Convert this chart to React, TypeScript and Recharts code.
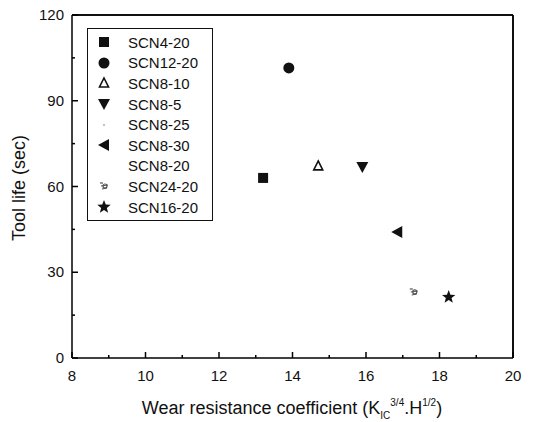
import { ScatterChart, Scatter, XAxis, YAxis, ReferenceLine } from "recharts";

// (x: wear resistance coefficient, y: tool life in sec)
const seriesNames = [
  "SCN4-20",
  "SCN12-20",
  "SCN8-10",
  "SCN8-5",
  "SCN8-25",
  "SCN8-30",
  "SCN8-20",
  "SCN24-20",
  "SCN16-20",
];
const markers = ["square", "circle", "triUpOpen", "triDown", "dot", "triLeft", "none", "scribble", "star"];
const xValues: (number | null)[] = [13.2, 13.9, 14.7, 15.9, null, 16.85, null, 17.3, 18.25];
const yValues: (number | null)[] = [63, 101.5, 67.2, 66.8, null, 44.1, null, 23.1, 21.3];

const xTicks = [8, 9, 10, 11, 12, 13, 14, 15, 16, 17, 18, 19, 20];
const yTicks = [0, 15, 30, 45, 60, 75, 90, 105, 120];

const INK = "#111";
const FONT = "'Liberation Sans', Arial, sans-serif";

function Marker({ kind, cx, cy }: { kind: string; cx: number; cy: number }) {
  switch (kind) {
    case "square":
      return <rect x={cx - 5} y={cy - 5} width={10} height={10} fill={INK} />;
    case "circle":
      return <circle cx={cx} cy={cy} r={5.5} fill={INK} />;
    case "triUpOpen":
      return (
        <path
          d={`M${cx},${cy - 5} L${cx + 4.5},${cy + 4} L${cx - 4.5},${cy + 4} Z`}
          fill="#fff"
          stroke={INK}
          strokeWidth={1.6}
        />
      );
    case "triDown":
      return <path d={`M${cx - 6},${cy - 5} L${cx + 6},${cy - 5} L${cx},${cy + 6} Z`} fill={INK} />;
    case "triLeft":
      return <path d={`M${cx - 6},${cy} L${cx + 5},${cy - 6} L${cx + 5},${cy + 6} Z`} fill={INK} />;
    case "dot":
      return <circle cx={cx} cy={cy} r={0.8} fill="#777" />;
    case "scribble":
      return (
        <g stroke="#555" strokeWidth={1.2} fill="none">
          <path d={`M${cx - 4},${cy - 3} L${cx - 1},${cy - 3}`} />
          <path d={`M${cx - 3},${cy} L${cx + 4},${cy - 1}`} />
          <path d={`M${cx - 2},${cy + 3} L${cx + 3},${cy + 2}`} />
          <circle cx={cx + 1} cy={cy} r={2} />
        </g>
      );
    case "star": {
      const pts: string[] = [];
      for (let i = 0; i < 10; i++) {
        const r = i % 2 === 0 ? 7 : 3;
        const a = -Math.PI / 2 + (i * Math.PI) / 5;
        pts.push(`${cx + r * Math.cos(a)},${cy + r * Math.sin(a)}`);
      }
      return <polygon points={pts.join(" ")} fill={INK} />;
    }
    default:
      return null;
  }
}

// ticks point inward, labels only on major ticks
const XTickBottom = (props: any) => {
  const { x, y, payload } = props;
  const major = payload.value % 2 === 0;
  return (
    <g>
      <line x1={x} y1={y} x2={x} y2={y - (major ? 6 : 3)} stroke="#000" strokeWidth={1.5} />
      {major && (
        <text x={x} y={y + 23} textAnchor="middle" fontSize={15} fontFamily={FONT} fill={INK}>
          {payload.value}
        </text>
      )}
    </g>
  );
};

const XTickTop = (props: any) => {
  const { x, y, payload } = props;
  const major = payload.value % 2 === 0;
  return <line x1={x} y1={y} x2={x} y2={y + (major ? 6 : 3)} stroke="#000" strokeWidth={1.5} />;
};

const YTickLeft = (props: any) => {
  const { x, y, payload } = props;
  const major = payload.value % 30 === 0;
  return (
    <g>
      <line x1={x} y1={y} x2={x + (major ? 6 : 3)} y2={y} stroke="#000" strokeWidth={1.5} />
      {major && (
        <text x={x - 8} y={y + 5} textAnchor="end" fontSize={15} fontFamily={FONT} fill={INK}>
          {payload.value}
        </text>
      )}
    </g>
  );
};

const YTickRight = (props: any) => {
  const { x, y, payload } = props;
  const major = payload.value % 30 === 0;
  return <line x1={x} y1={y} x2={x - (major ? 6 : 3)} y2={y} stroke="#000" strokeWidth={1.5} />;
};

const LegendBox = () => (
  <div
    style={{
      position: "absolute",
      left: 87,
      top: 28,
      border: `1px solid ${INK}`,
      width: 124,
      padding: "3px 0",
      background: "#fff",
      fontFamily: FONT,
      fontSize: 15,
      color: INK,
    }}
  >
    {seriesNames.map((name, i) => (
      <div key={name} style={{ display: "flex", alignItems: "center", height: 20.6 }}>
        <svg width={40} height={20} style={{ flex: "none" }}>
          <Marker kind={markers[i]} cx={16} cy={10} />
        </svg>
        <span>{name}</span>
      </div>
    ))}
  </div>
);

const XTitle = () => (
  <text x={292} y={414} textAnchor="middle" fontSize={18} fontFamily={FONT} fill={INK}>
    Wear resistance coefficient (K
    <tspan fontSize={10} dy={5}>IC</tspan>
    <tspan fontSize={10} dy={-13}>3/4</tspan>
    <tspan fontSize={18} dy={8}>.H</tspan>
    <tspan fontSize={10} dy={-8}>1/2</tspan>
    <tspan fontSize={18} dy={8}>)</tspan>
  </text>
);

const YTitle = () => (
  <text
    x={0}
    y={0}
    transform="translate(25,188) rotate(-90)"
    textAnchor="middle"
    fontSize={18}
    fontFamily={FONT}
    fill={INK}
  >
    Tool life (sec)
  </text>
);

export default function App() {
  const series = seriesNames
    .map((name, i) => ({ name, i }))
    .filter(({ i }) => xValues[i] != null && yValues[i] != null);
  return (
    <div style={{ position: "absolute", left: 0, top: 0, width: 535, height: 422, background: "#fff" }}>
      <ScatterChart width={535} height={422} margin={{ top: 5, right: 12, bottom: 0, left: 0 }}>
        <XAxis
          type="number"
          dataKey="x"
          domain={[8, 20]}
          ticks={xTicks}
          interval={0}
          height={64}
          tickSize={0}
          tickMargin={0}
          tick={<XTickBottom />}
          axisLine={{ stroke: "#000", strokeWidth: 1.5 }}
          label={{ content: () => <XTitle /> }}
        />
        <XAxis
          xAxisId="top"
          orientation="top"
          type="number"
          domain={[8, 20]}
          ticks={xTicks}
          interval={0}
          height={10}
          tickSize={0}
          tickMargin={0}
          tick={<XTickTop />}
          axisLine={{ stroke: "#000", strokeWidth: 1.5 }}
        />
        <YAxis
          type="number"
          dataKey="y"
          domain={[0, 120]}
          ticks={yTicks}
          interval={0}
          width={72}
          tickSize={0}
          tickMargin={0}
          tick={<YTickLeft />}
          axisLine={{ stroke: "#000", strokeWidth: 1.5 }}
          label={{ content: () => <YTitle /> }}
        />
        <YAxis
          yAxisId="right"
          orientation="right"
          type="number"
          domain={[0, 120]}
          ticks={yTicks}
          interval={0}
          width={10}
          tickSize={0}
          tickMargin={0}
          tick={<YTickRight />}
          axisLine={{ stroke: "#000", strokeWidth: 1.5 }}
        />
        <ReferenceLine y={120} stroke="#000" strokeWidth={1.5} />
        <ReferenceLine x={20} stroke="#000" strokeWidth={1.5} />
        {series.map(({ name, i }) => (
          <Scatter
            key={name}
            name={name}
            data={[{ x: xValues[i], y: yValues[i] }]}
            isAnimationActive={false}
            shape={(p: any) => <Marker kind={markers[i]} cx={p.cx} cy={p.cy} />}
          />
        ))}
      </ScatterChart>
      <LegendBox />
    </div>
  );
}
